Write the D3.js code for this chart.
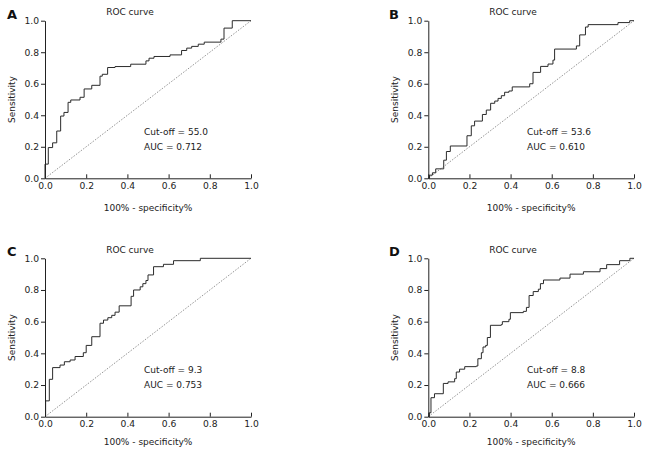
<!DOCTYPE html>
<html><head><meta charset="utf-8">
<script src="https://cdn.jsdelivr.net/npm/d3@7"></script>
<style>body{margin:0;background:#fff}svg{display:block}text{font-family:"DejaVu Sans",Verdana,sans-serif}</style>
</head><body><svg id="c" width="650" height="453"></svg>
<script>
// ---- data ----
const panelLetters = ["A", "B", "C", "D"];
const titles = ["ROC curve", "ROC curve", "ROC curve", "ROC curve"];
const cutoffs = ["55.0", "53.6", "9.3", "8.8"];
const aucs = ["0.712", "0.610", "0.753", "0.666"];
const tickValues = [0, 0.2, 0.4, 0.6, 0.8, 1.0];
const xLabel = "100% - specificity%";
const yLabel = "Sensitivity";

const fprA = [0,0,0.016,0.037,0.057,0.076,0.092,0.112,0.125,0.17,0.19,0.227,0.267,0.278,0.304,0.34,0.416,0.49,0.505,0.529,0.607,0.663,0.688,0.712,0.744,0.773,0.854,0.869,0.909,1.0];
const tprA = [0,0.09,0.195,0.225,0.30,0.395,0.418,0.482,0.497,0.514,0.567,0.59,0.648,0.66,0.703,0.709,0.724,0.745,0.762,0.773,0.783,0.811,0.826,0.837,0.851,0.864,0.883,0.953,1.0,1.0];

const fprB = [0,0.006,0.02,0.036,0.075,0.088,0.107,0.188,0.209,0.225,0.263,0.282,0.303,0.323,0.339,0.355,0.371,0.392,0.408,0.493,0.509,0.546,0.582,0.606,0.614,0.72,0.736,0.764,0.777,0.922,0.979,1.0];
const tprB = [0,0.02,0.035,0.06,0.115,0.17,0.205,0.27,0.333,0.363,0.405,0.433,0.476,0.49,0.507,0.524,0.546,0.554,0.58,0.60,0.672,0.71,0.725,0.75,0.82,0.84,0.91,0.96,0.975,0.988,1.0,1.0];

const fprC = [0,0.003,0.021,0.037,0.073,0.094,0.122,0.146,0.186,0.2,0.227,0.267,0.284,0.305,0.324,0.34,0.36,0.418,0.43,0.462,0.475,0.49,0.5,0.527,0.575,0.624,0.754,1.0];
const tprC = [0,0.1,0.236,0.31,0.326,0.347,0.358,0.38,0.404,0.45,0.505,0.59,0.61,0.625,0.64,0.66,0.7,0.76,0.8,0.82,0.84,0.86,0.895,0.947,0.962,0.985,1.0,1.0];

const fprD = [0,0.005,0.013,0.03,0.073,0.096,0.128,0.136,0.152,0.177,0.233,0.241,0.258,0.266,0.279,0.287,0.302,0.355,0.36,0.392,0.399,0.462,0.477,0.49,0.51,0.535,0.545,0.56,0.64,0.689,0.754,0.835,0.867,0.93,0.98,1.0];
const tprD = [0,0.025,0.12,0.145,0.21,0.22,0.24,0.282,0.3,0.316,0.32,0.366,0.404,0.44,0.45,0.5,0.577,0.582,0.6,0.615,0.657,0.665,0.69,0.765,0.79,0.805,0.84,0.863,0.875,0.9,0.915,0.935,0.96,0.985,1.0,1.0];

const fprs = [fprA, fprB, fprC, fprD];
const tprs = [tprA, tprB, tprC, tprD];

// ---- layout ----
const layout = [
  {x0: 45,  x1: 251, y0: 178.3, y1: 20.7, letterX: 7,   letterY: 18.5,  titleX: 130, titleY: 15,  annX: 144, annY: 134.5, xlabY: 210.5},
  {x0: 428.3, x1: 634, y0: 178.3, y1: 20.7, letterX: 389, letterY: 18.5, titleX: 513, titleY: 15,  annX: 527, annY: 134.5, xlabY: 210.5},
  {x0: 45,  x1: 251, y0: 416.7, y1: 258.3, letterX: 7,   letterY: 255.5, titleX: 130, titleY: 252.5, annX: 144, annY: 372.5, xlabY: 444.5},
  {x0: 428.3, x1: 634, y0: 416.7, y1: 258.3, letterX: 389, letterY: 255.5, titleX: 513, titleY: 252.5, annX: 527, annY: 372.5, xlabY: 444.5}
];

const svg = d3.select("#c");
const fmt = d3.format(".1f");

layout.forEach((L, i) => {
  const x = d3.scaleLinear().domain([0, 1]).range([L.x0, L.x1]);
  const y = d3.scaleLinear().domain([0, 1]).range([L.y0, L.y1]);
  const g = svg.append("g");

  // diagonal reference
  g.append("line")
    .attr("x1", x(0)).attr("y1", y(0)).attr("x2", x(1)).attr("y2", y(1))
    .attr("stroke", "#777").attr("stroke-width", 0.8).attr("stroke-dasharray", "1.5,1.5");

  // ROC step curve
  const pts = fprs[i].map((f, k) => [f, tprs[i][k]]);
  g.append("path")
    .datum(pts)
    .attr("fill", "none").attr("stroke", "#2b2b2b").attr("stroke-width", 1)
    .attr("d", d3.line().x(d => x(d[0])).y(d => y(d[1])).curve(d3.curveStepAfter));

  // axes
  const xa = g.append("g").attr("transform", `translate(0,${L.y0})`)
    .call(d3.axisBottom(x).tickValues(tickValues).tickFormat(fmt).tickSizeInner(-4).tickSizeOuter(0).tickPadding(4));
  const ya = g.append("g").attr("transform", `translate(${L.x0},0)`)
    .call(d3.axisLeft(y).tickValues(tickValues).tickFormat(fmt).tickSizeInner(4).tickSizeOuter(0).tickPadding(2));
  [xa, ya].forEach(a => {
    a.selectAll("path,line").attr("stroke", "#222").attr("stroke-width", 1);
    a.selectAll("text").attr("font-size", "9.2px").attr("fill", "#222").attr("font-family", '"DejaVu Sans",Verdana,sans-serif');
  });

  // labels
  g.append("text").attr("x", L.letterX).attr("y", L.letterY).text(panelLetters[i])
    .attr("font-size", "13px").attr("font-weight", "bold").attr("fill", "#111");
  g.append("text").attr("x", L.titleX).attr("y", L.titleY).attr("text-anchor", "middle")
    .attr("font-size", "9px").attr("fill", "#222").text(titles[i]);
  g.append("text").attr("transform", `translate(${L.x0 - 30},${(L.y0 + L.y1) / 2}) rotate(-90)`)
    .attr("text-anchor", "middle").attr("font-size", "9px").attr("fill", "#222").text(yLabel);
  g.append("text").attr("x", (L.x0 + L.x1) / 2).attr("y", L.xlabY).attr("text-anchor", "middle")
    .attr("font-size", "9px").attr("fill", "#222").text(xLabel);
  g.append("text").attr("x", L.annX).attr("y", L.annY).attr("font-size", "9px").attr("fill", "#222")
    .text("Cut-off = " + cutoffs[i]);
  g.append("text").attr("x", L.annX).attr("y", L.annY + 15.5).attr("font-size", "9px").attr("fill", "#222")
    .text("AUC = " + aucs[i]);
});
</script></body></html>
